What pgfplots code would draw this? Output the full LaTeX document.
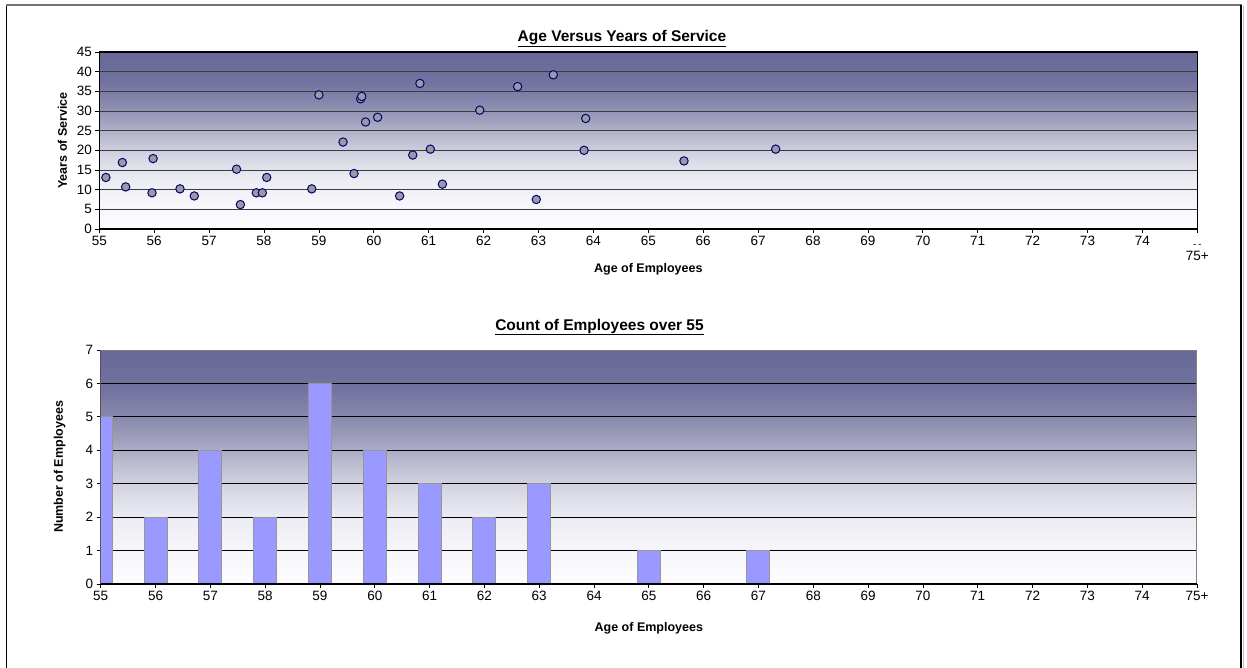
\documentclass[border=0pt]{standalone}
\usepackage{pgfplots}
\pgfplotsset{compat=1.18}
\usepackage{fontspec}
\setmainfont{Liberation Sans}

\definecolor{markfill}{RGB}{155,155,155}
\definecolor{markedge}{RGB}{0,0,128}
\definecolor{barfill}{RGB}{153,153,255}
\definecolor{baredge}{RGB}{150,150,150}
\definecolor{gridtop}{RGB}{60,60,60}

% plot-area gradient: white at the bottom, slate blue at the top
\pgfdeclareverticalshading{plotbg}{100bp}{%
  rgb(0bp)=(0.992,0.992,1);
  rgb(25bp)=(0.992,0.992,1);
  rgb(30.5bp)=(0.972,0.972,0.988);
  rgb(39bp)=(0.925,0.925,0.953);
  rgb(44.5bp)=(0.855,0.855,0.902);
  rgb(50bp)=(0.753,0.753,0.831);
  rgb(55.5bp)=(0.635,0.635,0.745);
  rgb(61bp)=(0.529,0.529,0.675);
  rgb(66.5bp)=(0.451,0.451,0.627);
  rgb(75bp)=(0.408,0.408,0.596);
  rgb(100bp)=(0.408,0.408,0.596)}

\newcommand{\tickfont}{\fontsize{13.5}{15}\selectfont}
\newcommand{\labelfont}{\bfseries\fontsize{12.5}{14}\selectfont}
\newcommand{\titlefont}{\bfseries\fontsize{15.5}{18}\selectfont}

\pgfplotsset{
  excelchart/.style={
    scale only axis,
    anchor=south west,
    axis background/.style={shade, shading=plotbg},
    xmin=55, xmax=75,
    xtick={55,...,75},
    tick align=outside,
    xtick pos=bottom, ytick pos=left,
    major tick length=4pt,
    tick style={black, line width=0.8pt},
    ymajorgrids,
    /pgf/number format/assume math mode=true,
    every tick label/.append style={font=\tickfont},
    xticklabel style={font=\tickfont},
    yticklabel style={font=\tickfont},
  },
}

\begin{document}
\begin{tikzpicture}
\useasboundingbox (0pt,0pt) rectangle (1247pt,668pt);

% outer frame of the sheet
\draw[black, line width=1.2pt] (6.5pt,0pt) -- (6.5pt,663pt);
\draw[black!55, line width=1.6pt] (6pt,663pt) -- (1241.5pt,663pt);
\draw[black, line width=1.2pt] (1241pt,663pt) -- (1241pt,0pt);
\draw[black!25, line width=1pt] (1243pt,662pt) -- (1243pt,0pt);

% ---------- Age versus years of service ----------
\begin{axis}[
  excelchart,
  at={(99.3pt,439pt)}, width=1098pt, height=177pt,
  ymin=0, ymax=45, ytick={0,5,...,45},
  axis line style={black, line width=1.3pt},
  grid style={gridtop, line width=0.9pt},
  xticklabels={55,56,57,58,59,60,61,62,63,64,65,66,67,68,69,70,71,72,73,74,
    {\begin{tabular}{@{}c@{}}{\fontsize{10}{10}\selectfont -\kern1.5pt-}\\[-2pt]75+\end{tabular}}},
  title={\underline{Age Versus Years of Service}},
  title style={font=\titlefont, at={(0.476,1)}, anchor=base, yshift=4pt},
  xlabel={Age of Employees},
  xlabel style={font=\labelfont, at={(axis description cs:0.5,0)}, anchor=base, yshift=-44pt},
  ylabel={Years of Service},
  ylabel style={font=\labelfont, at={(axis description cs:0,0.5)}, anchor=center, yshift=37pt},
]
\addplot[only marks, mark=*, mark size=4.2pt,
  mark options={fill=markfill, draw=markedge, line width=1pt}]
  coordinates {
  (55.12,13.1) (55.42,16.9) (55.48,10.7) (55.96,9.2) (55.98,17.9)
  (56.47,10.2) (56.73,8.4)
  (57.50,15.2) (57.57,6.2) (57.86,9.2) (57.97,9.2)
  (58.05,13.1) (58.87,10.2)
  (59.00,34.1) (59.44,22.1) (59.64,14.1) (59.76,33.1) (59.78,33.7) (59.85,27.2)
  (60.07,28.4) (60.47,8.4) (60.71,18.8) (60.84,37.0)
  (61.03,20.3) (61.25,11.4) (61.93,30.2)
  (62.62,36.2) (62.96,7.5)
  (63.27,39.2) (63.86,28.1) (63.83,20.0)
  (65.65,17.3)
  (67.32,20.3)
  };
\end{axis}

% ---------- Count of employees over 55 ----------
\begin{axis}[
  excelchart,
  at={(100.7pt,84pt)}, width=1096.3pt, height=234pt,
  ymin=0, ymax=7, ytick={0,...,7},
  axis line style={black!50, line width=1pt},
  grid style={black, line width=0.9pt},
  xticklabels={55,56,57,58,59,60,61,62,63,64,65,66,67,68,69,70,71,72,73,74,75+},
  title={\underline{Count of Employees over 55}},
  title style={font=\titlefont, at={(0.455,1)}, anchor=base, yshift=14pt},
  xlabel={Age of Employees},
  xlabel style={font=\labelfont, at={(axis description cs:0.5,0)}, anchor=base, yshift=-48pt},
  ylabel={Number of Employees},
  ylabel style={font=\labelfont, at={(axis description cs:0,0.5)}, anchor=center, yshift=41pt},
]
\addplot[ybar, bar width=0.42, fill=barfill, draw=baredge, line width=1pt]
  coordinates {
  (55,5) (56,2) (57,4) (58,2) (59,6) (60,4) (61,3) (62,2) (63,3) (65,1) (67,1)
  };
\draw[black, line width=1.2pt] (rel axis cs:0,0) -- (rel axis cs:1,0);
\draw[black, line width=1.2pt] (rel axis cs:0,0) -- (rel axis cs:0,1);
\end{axis}
\end{tikzpicture}
\end{document}
